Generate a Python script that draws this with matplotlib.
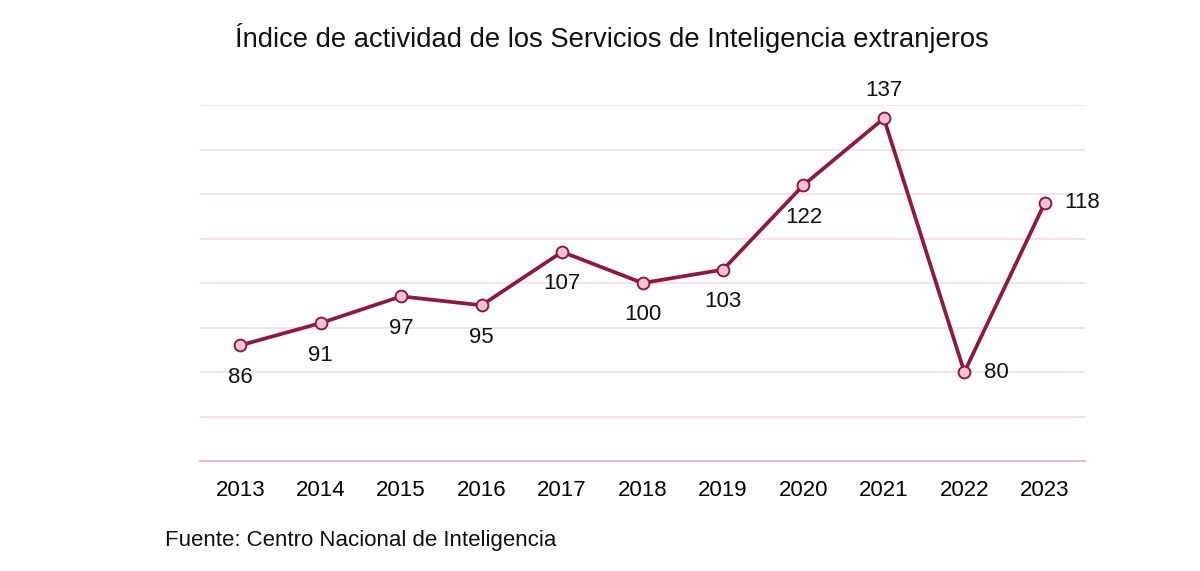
import matplotlib.pyplot as plt

plt.rcParams['font.family'] = ['Liberation Sans', 'DejaVu Sans']

years = ["2013", "2014", "2015", "2016", "2017", "2018", "2019", "2020", "2021", "2022", "2023"]
values = [86, 91, 97, 95, 107, 100, 103, 122, 137, 80, 118]
# where each value label sits relative to its point
label_pos = ["below", "below", "below", "below", "below", "below", "below", "below", "above", "right", "right"]

line_color = "#8C1C3E"
marker_fill = "#F5C3D0"
grid_color = "#F7DCE3"

fig = plt.figure(figsize=(12, 5.71), dpi=100)
ax = fig.add_axes([0.1667, 0.1926, 0.7375, 0.6235])

x = list(range(len(years)))
ax.plot(x, values, color=line_color, linewidth=2.7, marker="o", markersize=8.5,
        markerfacecolor=marker_fill, markeredgecolor=line_color, markeredgewidth=1.4,
        zorder=3, clip_on=False)

for i, v in enumerate(values):
    pos = label_pos[i]
    if pos == "below":
        off, ha, va = (0, -23), "center", "center"
    elif pos == "above":
        off, ha, va = (0, 20), "center", "center"
    else:
        off, ha, va = (14, 0), "left", "center"
    ax.annotate(str(v), (i, v), xytext=off, textcoords="offset points",
                ha=ha, va=va, fontsize=16, color="#111111")

ax.set_xlim(-0.5, 10.5)
ax.set_ylim(60, 140)
ax.set_yticks(range(60, 141, 10))
ax.set_xticks(x)
ax.set_xticklabels(years, fontsize=16)
ax.tick_params(axis="x", length=0, pad=13.5)
ax.tick_params(axis="y", length=0, labelleft=False)
ax.grid(axis="y", color=grid_color, linewidth=1.2)
ax.set_axisbelow(True)
for s in ["top", "right", "left"]:
    ax.spines[s].set_visible(False)
ax.spines["bottom"].set_color("#EDB8C6")
ax.spines["bottom"].set_linewidth(1.5)

fig.text(0.51, 0.933, "Índice de actividad de los Servicios de Inteligencia extranjeros",
         ha="center", va="center", fontsize=19.7, color="#111111")
fig.text(0.1375, 0.053, "Fuente: Centro Nacional de Inteligencia",
         ha="left", va="center", fontsize=16, color="#111111")

fig.savefig("out.png", dpi=100)
